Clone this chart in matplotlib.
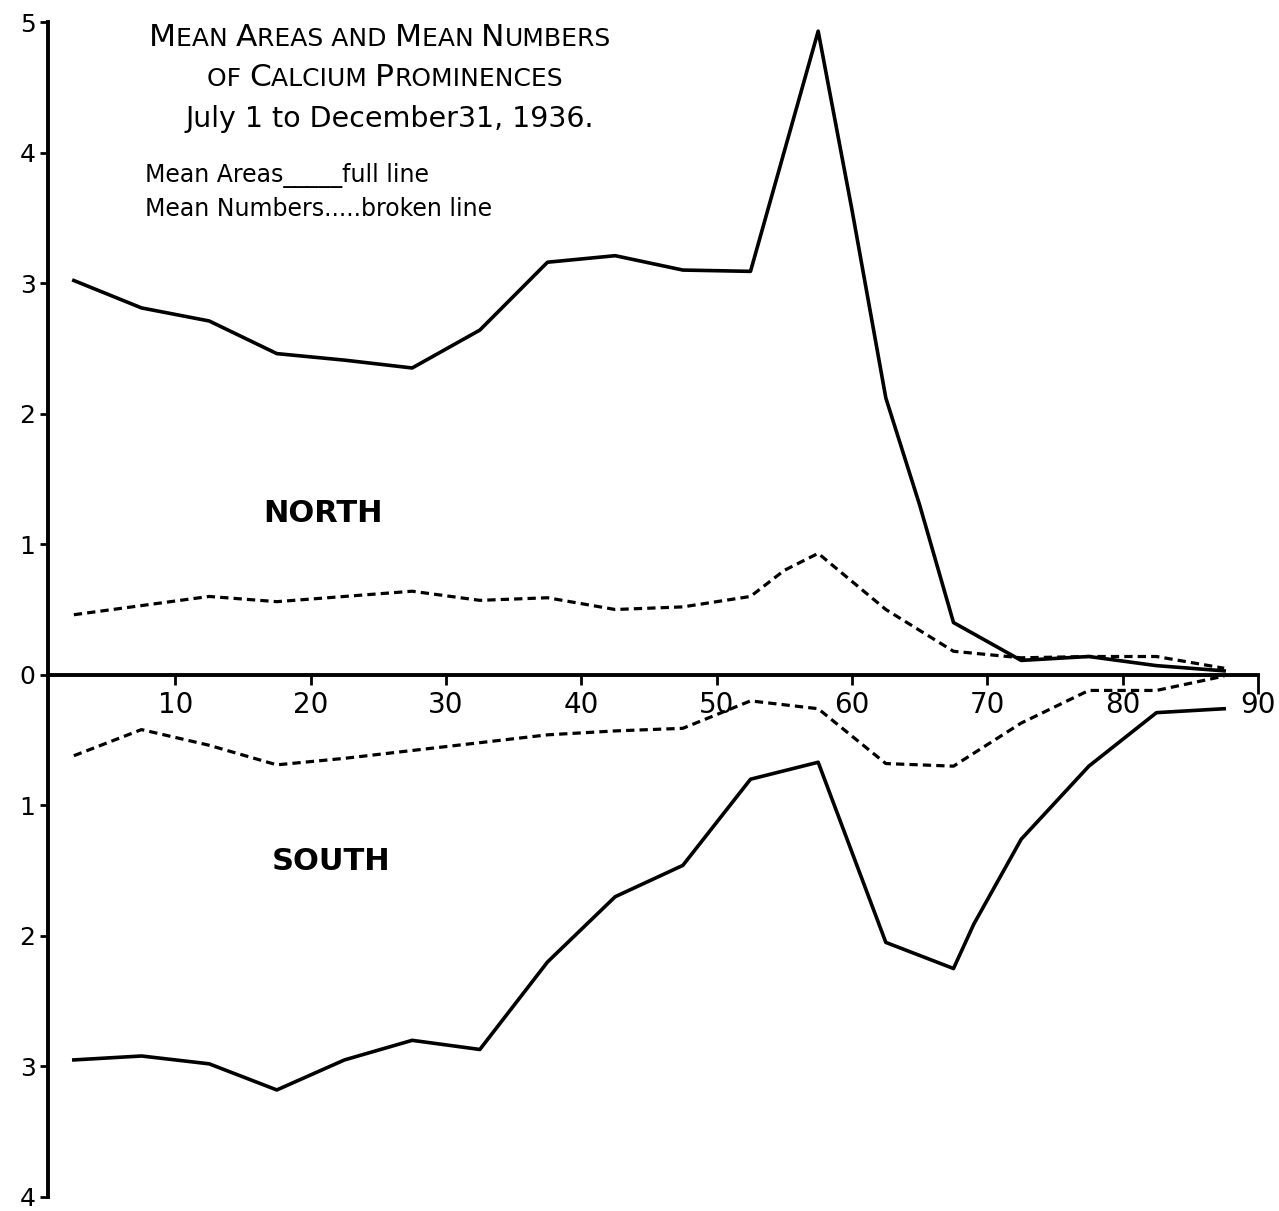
import matplotlib
matplotlib.use("Agg")
import matplotlib.pyplot as plt
from matplotlib.offsetbox import TextArea, HPacker, AnnotationBbox

# latitude zones (degrees), mean areas / mean numbers of Ca prominences
north_area_x = [2.5, 7.5, 12.5, 17.5, 22.5, 27.5, 32.5, 37.5, 42.5, 47.5,
                52.5, 57.5, 60, 62.5, 65, 67.5, 72.5, 77.5, 82.5, 87.5]
north_area = [3.02, 2.81, 2.71, 2.46, 2.41, 2.35, 2.64, 3.16, 3.21, 3.10,
              3.09, 4.93, 3.56, 2.12, 1.30, 0.40, 0.11, 0.14, 0.07, 0.03]

north_num_x = [2.5, 7.5, 12.5, 17.5, 22.5, 27.5, 32.5, 37.5, 42.5, 47.5,
               52.5, 55, 57.5, 62.5, 67.5, 72.5, 77.5, 82.5, 87.5]
north_num = [0.46, 0.53, 0.60, 0.56, 0.60, 0.64, 0.57, 0.59, 0.50, 0.52,
             0.60, 0.80, 0.93, 0.50, 0.18, 0.13, 0.14, 0.14, 0.05]

south_area_x = [2.5, 7.5, 12.5, 17.5, 22.5, 27.5, 32.5, 37.5, 42.5, 47.5,
                52.5, 57.5, 62.5, 67.5, 69, 72.5, 77.5, 82.5, 87.5]
south_area = [2.95, 2.92, 2.98, 3.18, 2.95, 2.80, 2.87, 2.20, 1.70, 1.46,
              0.80, 0.67, 2.05, 2.25, 1.91, 1.26, 0.70, 0.29, 0.26]

south_num_x = [2.5, 7.5, 12.5, 17.5, 22.5, 27.5, 32.5, 37.5, 42.5, 47.5,
               52.5, 57.5, 62.5, 67.5, 72.5, 77.5, 82.5, 87.5]
south_num = [0.62, 0.42, 0.54, 0.69, 0.64, 0.58, 0.52, 0.46, 0.43, 0.41,
             0.20, 0.26, 0.68, 0.70, 0.37, 0.12, 0.12, 0.01]

x_ticks = [10, 20, 30, 40, 50, 60, 70, 80, 90]
y_ticks = [-4, -3, -2, -1, 0, 1, 2, 3, 4, 5]

FONT = "DejaVu Sans"
W, H = 1279, 1211


def fx(px):
    return px / W


def fy(py):
    return 1 - py / H


def small_caps(ax, text, x, y, big, small):
    # hand-lettered small caps: capitals big, the rest as smaller capitals
    parts = []
    cur, cur_big = "", None
    for ch in text:
        is_big = ch.isupper()
        if cur and is_big != cur_big:
            parts.append((cur, cur_big))
            cur = ""
        cur += ch.upper()
        cur_big = is_big
    parts.append((cur, cur_big))
    boxes = [TextArea(s, textprops=dict(fontsize=big if b else small, family=FONT))
             for s, b in parts]
    pack = HPacker(children=boxes, align="baseline", pad=0, sep=0)
    ab = AnnotationBbox(pack, (x, y), xycoords="figure fraction", frameon=False,
                        box_alignment=(0.5, 0.5), annotation_clip=False)
    ax.add_artist(ab)


fig = plt.figure(figsize=(W / 100, H / 100), dpi=100)
ax = fig.add_axes([fx(40), fy(1197), (1258 - 40) / W, (1197 - 22) / H])
ax.set_xlim(0, 90)
ax.set_ylim(-4, 5)

# North above the zero line, South below it
ax.plot(north_area_x, north_area, color="black", lw=2.6)
ax.plot(north_num_x, north_num, color="black", lw=2.3, ls=(0, (2.6, 1.6)))
ax.plot(south_area_x, [-v for v in south_area], color="black", lw=2.6)
ax.plot(south_num_x, [-v for v in south_num], color="black", lw=2.3, ls=(0, (2.6, 1.6)))

for s in ["top", "right"]:
    ax.spines[s].set_visible(False)
ax.spines["bottom"].set_position(("data", 0))
ax.spines["bottom"].set_bounds(0.6, 90)
ax.spines["left"].set_position(("data", 0.6))  # hand-drawn axis sits a bit right of 0
ax.spines["bottom"].set_linewidth(2.8)
ax.spines["left"].set_linewidth(2.8)

ax.set_xticks(x_ticks)
ax.set_xticklabels([str(t) for t in x_ticks], fontsize=20, family=FONT)
ax.tick_params(axis="x", direction="out", length=7, width=2, pad=5)
ax.xaxis.get_major_ticks()[-1].tick1line.set_markersize(14)

ax.set_yticks(y_ticks)
ax.set_yticklabels([str(abs(t)) for t in y_ticks], fontsize=18, family=FONT)
ax.tick_params(axis="y", direction="out", length=6, width=2, pad=3)

# title block
small_caps(ax, "Mean Areas and Mean Numbers", fx(380), fy(37), 22.5, 18)
small_caps(ax, "of Calcium Prominences", fx(385), fy(78), 22.5, 18)
fig.text(fx(390), fy(119), "July 1 to December31, 1936.", fontsize=20.5, family=FONT,
         ha="center", va="center")
fig.text(fx(145), fy(175), "Mean Areas_____full line", fontsize=17, family=FONT,
         ha="left", va="center")
fig.text(fx(145), fy(209), "Mean Numbers.....broken line", fontsize=17, family=FONT,
         ha="left", va="center")

fig.text(fx(323), fy(513), "NORTH", fontsize=22, family=FONT, weight="bold",
         ha="center", va="center")
fig.text(fx(331), fy(862), "SOUTH", fontsize=22, family=FONT, weight="bold",
         ha="center", va="center")

fig.savefig("out.png", dpi=100)
